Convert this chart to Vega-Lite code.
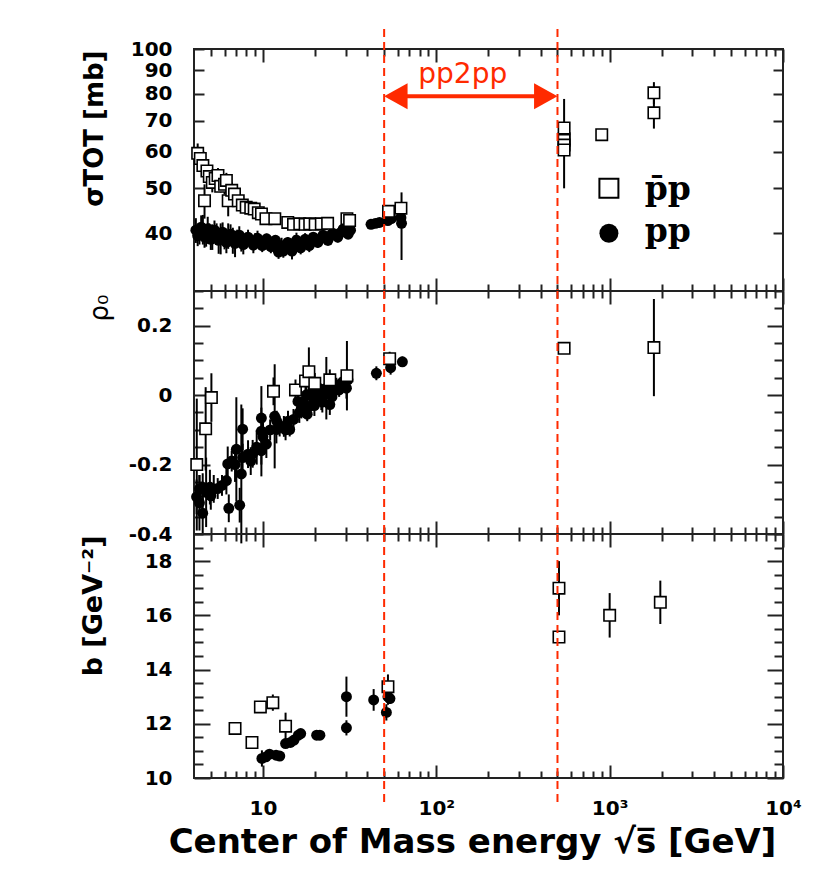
{
"$schema":"https://vega.github.io/schema/vega-lite/v6.json",
"background":"white",
"padding":{"left":77,"top":26,"right":50,"bottom":10},
"spacing":0,
"bounds":"flush",
"datasets":{
"sig_pp":[{"x":4.1,"v":40.6,"e":2.5},{"x":4.2,"v":39.5,"e":2.0},{"x":4.3,"v":39.8,"e":2.0},{"x":4.4,"v":41.2,"e":2.5},{"x":4.5,"v":40.8,"e":3.0},{"x":4.6,"v":39.2,"e":2.0},{"x":4.7,"v":39.6,"e":2.2},{"x":4.8,"v":40.9,"e":2.5},{"x":4.9,"v":40.2,"e":1.8},{"x":5.0,"v":38.8,"e":2.0},{"x":5.1,"v":39.3,"e":2.5},{"x":5.25,"v":40.6,"e":2.0},{"x":5.4,"v":40.0,"e":2.0},{"x":5.55,"v":38.6,"e":2.5},{"x":5.7,"v":39.0,"e":3.0},{"x":5.85,"v":40.2,"e":2.0},{"x":6.0,"v":38.9,"e":2.0},{"x":6.15,"v":38.2,"e":2.0},{"x":6.3,"v":39.5,"e":2.5},{"x":6.5,"v":39.8,"e":2.0},{"x":6.7,"v":38.6,"e":2.5},{"x":6.9,"v":38.0,"e":2.5},{"x":7.1,"v":39.2,"e":1.5},{"x":7.3,"v":39.6,"e":1.8},{"x":7.5,"v":38.5,"e":2.0},{"x":7.7,"v":37.8,"e":1.8},{"x":8.0,"v":38.6,"e":1.5},{"x":8.2,"v":39.2,"e":1.5},{"x":8.5,"v":38.4,"e":1.2},{"x":8.8,"v":37.7,"e":1.5},{"x":9.0,"v":38.5,"e":1.5},{"x":9.3,"v":39.0,"e":1.5},{"x":9.6,"v":38.1,"e":1.0},{"x":9.9,"v":37.6,"e":1.2},{"x":10.2,"v":38.3,"e":1.0},{"x":10.5,"v":38.9,"e":1.0},{"x":10.8,"v":38.2,"e":1.2},{"x":11.1,"v":37.4,"e":1.2},{"x":11.5,"v":37.8,"e":1.0},{"x":11.8,"v":38.6,"e":1.0},{"x":12.0,"v":37.2,"e":1.5},{"x":12.3,"v":36.4,"e":1.2},{"x":12.5,"v":37.0,"e":1.0},{"x":12.8,"v":37.6,"e":1.5},{"x":13.1,"v":36.6,"e":1.2},{"x":13.5,"v":37.5,"e":1.2},{"x":13.9,"v":38.2,"e":1.0},{"x":14.3,"v":37.4,"e":1.5},{"x":14.7,"v":36.6,"e":1.5},{"x":15.2,"v":37.8,"e":1.8},{"x":15.6,"v":38.6,"e":1.5},{"x":16.0,"v":38.0,"e":1.5},{"x":16.5,"v":37.2,"e":1.2},{"x":17.0,"v":37.9,"e":1.0},{"x":17.5,"v":38.8,"e":1.2},{"x":18.0,"v":38.3,"e":1.2},{"x":18.5,"v":37.6,"e":1.2},{"x":19.0,"v":38.5,"e":1.5},{"x":19.5,"v":39.2,"e":1.0},{"x":20.0,"v":38.7,"e":1.0},{"x":20.7,"v":38.2,"e":1.0},{"x":21.5,"v":38.9,"e":1.0},{"x":22.2,"v":39.6,"e":1.0},{"x":23.0,"v":39.2,"e":1.0},{"x":23.7,"v":38.6,"e":1.0},{"x":24.5,"v":39.5,"e":1.2},{"x":25.2,"v":40.0,"e":1.0},{"x":26.0,"v":39.8,"e":1.0},{"x":27.0,"v":39.2,"e":1.0},{"x":28.0,"v":40.1,"e":1.0},{"x":29.0,"v":40.8,"e":0.8},{"x":30.0,"v":40.4,"e":1.0},{"x":31.0,"v":39.8,"e":0.8},{"x":32.0,"v":40.6,"e":0.8},{"x":42.0,"v":41.8,"e":0.6},{"x":44.5,"v":42.0,"e":0.6},{"x":47.0,"v":42.2,"e":0.6},{"x":52.5,"v":42.6,"e":0.6},{"x":55.0,"v":43.0,"e":0.8},{"x":62.5,"v":43.2,"e":0.6},{"x":63.0,"v":42.0,"e":7.0}],
"sig_pb":[{"x":4.2,"v":59.5,"e":3.0},{"x":4.35,"v":58.0,"e":2.5},{"x":4.5,"v":56.0,"e":3.0},{"x":4.6,"v":47.0,"e":4.0},{"x":4.75,"v":54.5,"e":2.0},{"x":4.9,"v":53.0,"e":2.0},{"x":5.1,"v":51.5,"e":2.5},{"x":5.3,"v":52.5,"e":2.0},{"x":5.5,"v":53.3,"e":2.0},{"x":5.7,"v":50.5,"e":1.5},{"x":6.0,"v":51.0,"e":2.5},{"x":6.15,"v":52.0,"e":2.0},{"x":6.3,"v":47.0,"e":3.5},{"x":6.6,"v":49.5,"e":2.0},{"x":6.85,"v":48.6,"e":1.5},{"x":7.2,"v":47.0,"e":1.0},{"x":7.6,"v":46.0,"e":1.0},{"x":8.0,"v":45.5,"e":0.8},{"x":8.5,"v":45.3,"e":0.6},{"x":8.9,"v":45.1,"e":0.6},{"x":9.4,"v":44.3,"e":0.6},{"x":9.8,"v":44.0,"e":0.6},{"x":10.4,"v":43.0,"e":0.6},{"x":11.7,"v":43.0,"e":0.5},{"x":13.9,"v":42.2,"e":0.5},{"x":15.0,"v":41.8,"e":0.5},{"x":16.3,"v":41.9,"e":0.5},{"x":17.5,"v":41.8,"e":0.5},{"x":18.6,"v":41.9,"e":0.6},{"x":20.0,"v":41.8,"e":0.5},{"x":21.7,"v":41.9,"e":0.6},{"x":23.6,"v":42.0,"e":0.5},{"x":30.5,"v":43.0,"e":0.5},{"x":31.6,"v":42.6,"e":0.5},{"x":53.0,"v":44.6,"e":1.0},{"x":62.5,"v":45.3,"e":1.0},{"x":546,"v":64.0,"e":14.0},{"x":546,"v":67.5,"e":1.0},{"x":546,"v":63.5,"e":1.5},{"x":546,"v":62.0,"e":1.0},{"x":546,"v":60.5,"e":1.0},{"x":900,"v":65.3,"e":0.7},{"x":1800,"v":80.4,"e":4.4},{"x":1800,"v":72.8,"e":5.5}],
"rho_pp":[{"x":4.14,"v":-0.293,"e":0.05},{"x":4.3,"v":-0.31,"e":0.08},{"x":4.3,"v":-0.27,"e":0.04},{"x":4.49,"v":-0.34,"e":0.06},{"x":4.49,"v":-0.265,"e":0.04},{"x":4.7,"v":-0.28,"e":0.1},{"x":4.94,"v":-0.265,"e":0.05},{"x":5.0,"v":-0.29,"e":0.04},{"x":5.2,"v":-0.27,"e":0.04},{"x":5.48,"v":-0.269,"e":0.03},{"x":5.8,"v":-0.26,"e":0.03},{"x":6.15,"v":-0.246,"e":0.04},{"x":6.26,"v":-0.198,"e":0.05},{"x":6.35,"v":-0.326,"e":0.04},{"x":6.6,"v":-0.19,"e":0.03},{"x":6.9,"v":-0.2,"e":0.05},{"x":7.02,"v":-0.156,"e":0.15},{"x":7.34,"v":-0.317,"e":0.05},{"x":7.5,"v":-0.227,"e":0.2},{"x":7.63,"v":-0.098,"e":0.06},{"x":7.63,"v":-0.18,"e":0.04},{"x":8.2,"v":-0.17,"e":0.04},{"x":8.5,"v":-0.19,"e":0.04},{"x":8.72,"v":-0.169,"e":0.04},{"x":9.2,"v":-0.15,"e":0.05},{"x":9.79,"v":-0.16,"e":0.04},{"x":9.79,"v":-0.066,"e":0.03},{"x":9.79,"v":-0.104,"e":0.13},{"x":10.0,"v":-0.12,"e":0.04},{"x":10.46,"v":-0.141,"e":0.04},{"x":11.0,"v":-0.1,"e":0.03},{"x":11.68,"v":-0.061,"e":0.15},{"x":11.95,"v":-0.099,"e":0.04},{"x":12.0,"v":-0.075,"e":0.03},{"x":12.48,"v":-0.089,"e":0.03},{"x":13.2,"v":-0.09,"e":0.03},{"x":13.5,"v":-0.1,"e":0.03},{"x":13.94,"v":-0.075,"e":0.03},{"x":14.26,"v":-0.099,"e":0.02},{"x":15.0,"v":-0.07,"e":0.03},{"x":15.91,"v":-0.018,"e":0.03},{"x":16.2,"v":-0.05,"e":0.03},{"x":16.65,"v":-0.037,"e":0.03},{"x":17.0,"v":-0.02,"e":0.03},{"x":17.2,"v":-0.045,"e":0.02},{"x":17.8,"v":0.001,"e":0.03},{"x":18.0,"v":-0.055,"e":0.02},{"x":18.6,"v":-0.032,"e":0.03},{"x":19.0,"v":0.005,"e":0.02},{"x":19.5,"v":-0.01,"e":0.02},{"x":19.8,"v":-0.03,"e":0.03},{"x":20.3,"v":0.011,"e":0.02},{"x":21.0,"v":0.02,"e":0.02},{"x":21.7,"v":-0.013,"e":0.03},{"x":22.0,"v":-0.02,"e":0.03},{"x":22.5,"v":0.0,"e":0.02},{"x":23.2,"v":0.02,"e":0.09},{"x":23.8,"v":0.01,"e":0.02},{"x":24.3,"v":-0.027,"e":0.03},{"x":25.0,"v":-0.005,"e":0.03},{"x":25.5,"v":0.01,"e":0.02},{"x":26.0,"v":0.025,"e":0.02},{"x":26.5,"v":0.03,"e":0.02},{"x":27.5,"v":0.015,"e":0.02},{"x":28.9,"v":0.039,"e":0.03},{"x":29.5,"v":0.03,"e":0.02},{"x":30.3,"v":0.02,"e":0.03},{"x":30.9,"v":0.044,"e":0.02},{"x":45.1,"v":0.063,"e":0.02},{"x":54.5,"v":0.079,"e":0.02},{"x":63.7,"v":0.096,"e":0.015}],
"rho_pb":[{"x":4.15,"v":-0.2,"e":0.19},{"x":4.67,"v":-0.097,"e":0.12},{"x":5.04,"v":-0.007,"e":0.07},{"x":11.5,"v":0.011,"e":0.04},{"x":15.4,"v":0.015,"e":0.03},{"x":17.6,"v":0.041,"e":0.03},{"x":18.4,"v":0.0675,"e":0.07},{"x":19.9,"v":0.034,"e":0.03},{"x":24.3,"v":0.044,"e":0.03},{"x":30.5,"v":0.056,"e":0.1},{"x":53.8,"v":0.105,"e":0.02},{"x":546,"v":0.135,"e":0.01},{"x":1800,"v":0.137,"e":0.14}],
"b_pp":[{"x":9.86,"v":10.72,"e":0.3},{"x":10.4,"v":10.78,"e":0.1},{"x":10.9,"v":10.88,"e":0.1},{"x":11.9,"v":10.84,"e":0.1},{"x":12.5,"v":10.81,"e":0.1},{"x":13.5,"v":11.27,"e":0.1},{"x":14.4,"v":11.31,"e":0.1},{"x":15.1,"v":11.4,"e":0.1},{"x":16.0,"v":11.58,"e":0.12},{"x":16.5,"v":11.64,"e":0.15},{"x":20.4,"v":11.58,"e":0.08},{"x":21.3,"v":11.58,"e":0.08},{"x":30.3,"v":13.0,"e":0.74},{"x":30.3,"v":11.85,"e":0.28},{"x":43.5,"v":12.88,"e":0.4},{"x":52.6,"v":13.0,"e":0.3},{"x":54,"v":12.93,"e":0.2},{"x":51.5,"v":12.42,"e":0.3}],
"b_pb":[{"x":6.9,"v":11.83,"e":0.1},{"x":8.64,"v":11.31,"e":0.12},{"x":9.66,"v":12.62,"e":0.12},{"x":11.4,"v":12.78,"e":0.3},{"x":13.5,"v":11.91,"e":0.5},{"x":52.6,"v":13.37,"e":0.45},{"x":510,"v":17.0,"e":1.0},{"x":510,"v":15.2,"e":0.1},{"x":1000,"v":16.0,"e":0.82},{"x":1960,"v":16.48,"e":0.8}],
"rhic":[{"x":50},{"x":500}]
},
"vconcat":[
{"width":589,"height":242,"resolve":{"axis":{"x":"independent","y":"independent"}},"layer":[
{"data":{"name":"sig_pp"},"mark":{"type":"errorbar","color":"#000","thickness":2},"encoding":{"x":{"field":"x","type":"quantitative","scale":{"type":"log","domain":[4,10000],"nice":false},"axis":null},"y":{"field":"v","type":"quantitative","scale":{"type":"log","domain":[30,100],"nice":false},"axis":null},"yError":{"field":"e"}}},
{"data":{"name":"sig_pp"},"mark":{"type":"circle","color":"#000","size":120,"opacity":1},"encoding":{"x":{"field":"x","type":"quantitative","scale":{"type":"log","domain":[4,10000],"nice":false},"axis":{"orient":"top","offset":-242,"values":[5,6,7,8,9,10,20,30,40,50,60,70,80,90,100,200,300,400,500,600,700,800,900,1000,2000,3000,4000,5000,6000,7000,8000,9000,10000],"labels":false,"title":null,"tickSize":{"condition":{"test":"datum.value==10||datum.value==100||datum.value==1000||datum.value==10000","value":13},"value":7}}},"y":{"field":"v","type":"quantitative","scale":{"type":"log","domain":[30,100],"nice":false},"axis":{"orient":"right","offset":-589,"values":[40,50,60,70,80,90,100],"labels":false,"title":null,"tickSize":10}}}},
{"data":{"name":"sig_pb"},"mark":{"type":"errorbar","color":"#000","thickness":2},"encoding":{"x":{"field":"x","type":"quantitative","scale":{"type":"log","domain":[4,10000],"nice":false},"axis":null},"y":{"field":"v","type":"quantitative","scale":{"type":"log","domain":[30,100],"nice":false},"axis":null},"yError":{"field":"e"}}},
{"data":{"name":"sig_pb"},"mark":{"type":"point","shape":"square","filled":true,"fill":"white","stroke":"#000","strokeWidth":1.6,"size":130,"opacity":1},"encoding":{"x":{"field":"x","type":"quantitative","scale":{"type":"log","domain":[4,10000],"nice":false},"axis":{"orient":"bottom","offset":-242,"values":[5,6,7,8,9,10,20,30,40,50,60,70,80,90,100,200,300,400,500,600,700,800,900,1000,2000,3000,4000,5000,6000,7000,8000,9000,10000],"labels":false,"title":null,"tickSize":{"condition":{"test":"datum.value==10||datum.value==100||datum.value==1000||datum.value==10000","value":13},"value":7}}},"y":{"field":"v","type":"quantitative","scale":{"type":"log","domain":[30,100],"nice":false},"axis":{"orient":"left","offset":-589,"values":[40,50,60,70,80,90,100],"labels":false,"title":null,"tickSize":10}}}},
{"data":{"name":"sig_pp"},"mark":{"type":"circle","opacity":0},"encoding":{"x":{"field":"x","type":"quantitative","scale":{"type":"log","domain":[4,10000],"nice":false},"axis":null},"y":{"field":"v","type":"quantitative","scale":{"type":"log","domain":[30,100],"nice":false},"axis":{"orient":"left","values":[40,50,60,70,80,90,100],"ticks":false,"labelPadding":22,"title":"σTOT [mb]","titleFontSize":26,"titleX":-87,"titleY":1,"titleAlign":"right","titleBaseline":"bottom","titleAngle":-90}}}},
{"data":{"name":"rhic"},"mark":{"type":"rule","color":"#ff2a00","strokeWidth":2,"strokeDash":[8,5]},"encoding":{"x":{"field":"x","type":"quantitative","scale":{"type":"log","domain":[4,10000],"nice":false},"axis":null},"y":{"datum":110.5,"type":"quantitative","scale":{"type":"log","domain":[30,100],"nice":false},"axis":null},"y2":{"datum":30}}},
{"data":{"values":[{}]},"mark":{"type":"rule","color":"#ff2a00","strokeWidth":4},"encoding":{"x":{"datum":53,"type":"quantitative","scale":{"type":"log","domain":[4,10000],"nice":false},"axis":null},"x2":{"datum":475},"y":{"datum":79.1,"type":"quantitative","scale":{"type":"log","domain":[30,100],"nice":false},"axis":null}}},
{"data":{"values":[{}]},"mark":{"type":"point","shape":"M0,0L1.8,-1L1.8,1Z","filled":true,"color":"#ff2a00","size":676,"opacity":1,"strokeWidth":0},"encoding":{"x":{"datum":50,"type":"quantitative","scale":{"type":"log","domain":[4,10000],"nice":false},"axis":null},"y":{"datum":79.1,"type":"quantitative","scale":{"type":"log","domain":[30,100],"nice":false},"axis":null}}},
{"data":{"values":[{}]},"mark":{"type":"point","shape":"M0,0L-1.8,-1L-1.8,1Z","filled":true,"color":"#ff2a00","size":676,"opacity":1,"strokeWidth":0},"encoding":{"x":{"datum":500,"type":"quantitative","scale":{"type":"log","domain":[4,10000],"nice":false},"axis":null},"y":{"datum":79.1,"type":"quantitative","scale":{"type":"log","domain":[30,100],"nice":false},"axis":null}}},
{"data":{"values":[{}]},"mark":{"type":"text","text":"pp2pp","font":"DejaVu Sans","fontSize":28,"color":"#ff2a00","align":"center","baseline":"alphabetic"},"encoding":{"x":{"datum":142,"type":"quantitative","scale":{"type":"log","domain":[4,10000],"nice":false},"axis":null},"y":{"datum":84.4,"type":"quantitative","scale":{"type":"log","domain":[30,100],"nice":false},"axis":null}}},
{"data":{"values":[{}]},"mark":{"type":"point","shape":"square","filled":true,"fill":"white","stroke":"#000","strokeWidth":2,"size":361,"opacity":1},"encoding":{"x":{"datum":990,"type":"quantitative","scale":{"type":"log","domain":[4,10000],"nice":false},"axis":null},"y":{"datum":50,"type":"quantitative","scale":{"type":"log","domain":[30,100],"nice":false},"axis":null}}},
{"data":{"values":[{}]},"mark":{"type":"circle","color":"#000","size":361,"opacity":1},"encoding":{"x":{"datum":990,"type":"quantitative","scale":{"type":"log","domain":[4,10000],"nice":false},"axis":null},"y":{"datum":40,"type":"quantitative","scale":{"type":"log","domain":[30,100],"nice":false},"axis":null}}},
{"data":{"values":[{}]},"mark":{"type":"text","text":"p̄p","font":"DejaVu Serif","fontWeight":"bold","fontSize":33,"color":"#000","align":"left","baseline":"alphabetic"},"encoding":{"x":{"datum":1594,"type":"quantitative","scale":{"type":"log","domain":[4,10000],"nice":false},"axis":null},"y":{"datum":47.1,"type":"quantitative","scale":{"type":"log","domain":[30,100],"nice":false},"axis":null}}},
{"data":{"values":[{}]},"mark":{"type":"text","text":"pp","font":"DejaVu Serif","fontWeight":"bold","fontSize":33,"color":"#000","align":"left","baseline":"alphabetic"},"encoding":{"x":{"datum":1594,"type":"quantitative","scale":{"type":"log","domain":[4,10000],"nice":false},"axis":null},"y":{"datum":38.2,"type":"quantitative","scale":{"type":"log","domain":[30,100],"nice":false},"axis":null}}}
]},
{"width":589,"height":243,"resolve":{"axis":{"x":"independent","y":"independent"}},"layer":[
{"data":{"name":"rho_pp"},"mark":{"type":"errorbar","color":"#000","thickness":2},"encoding":{"x":{"field":"x","type":"quantitative","scale":{"type":"log","domain":[4,10000],"nice":false},"axis":null},"y":{"field":"v","type":"quantitative","scale":{"domain":[-0.4,0.3],"nice":false,"zero":false},"axis":null},"yError":{"field":"e"}}},
{"data":{"name":"rho_pp"},"mark":{"type":"circle","color":"#000","size":120,"opacity":1},"encoding":{"x":{"field":"x","type":"quantitative","scale":{"type":"log","domain":[4,10000],"nice":false},"axis":{"orient":"top","offset":-243,"values":[5,6,7,8,9,10,20,30,40,50,60,70,80,90,100,200,300,400,500,600,700,800,900,1000,2000,3000,4000,5000,6000,7000,8000,9000,10000],"labels":false,"title":null,"tickSize":{"condition":{"test":"datum.value==10||datum.value==100||datum.value==1000||datum.value==10000","value":13},"value":7}}},"y":{"field":"v","type":"quantitative","scale":{"domain":[-0.4,0.3],"nice":false,"zero":false},"axis":{"orient":"right","offset":-589,"values":[-0.4,-0.35,-0.3,-0.25,-0.2,-0.15,-0.1,-0.05,0,0.05,0.1,0.15,0.2,0.25,0.3],"labels":false,"title":null,"tickSize":{"condition":{"test":"abs(datum.value*5-round(datum.value*5))<0.001","value":16},"value":9}}}}},
{"data":{"name":"rho_pb"},"mark":{"type":"errorbar","color":"#000","thickness":2},"encoding":{"x":{"field":"x","type":"quantitative","scale":{"type":"log","domain":[4,10000],"nice":false},"axis":null},"y":{"field":"v","type":"quantitative","scale":{"domain":[-0.4,0.3],"nice":false,"zero":false},"axis":null},"yError":{"field":"e"}}},
{"data":{"name":"rho_pb"},"mark":{"type":"point","shape":"square","filled":true,"fill":"white","stroke":"#000","strokeWidth":1.6,"size":130,"opacity":1},"encoding":{"x":{"field":"x","type":"quantitative","scale":{"type":"log","domain":[4,10000],"nice":false},"axis":{"orient":"bottom","offset":-243,"values":[5,6,7,8,9,10,20,30,40,50,60,70,80,90,100,200,300,400,500,600,700,800,900,1000,2000,3000,4000,5000,6000,7000,8000,9000,10000],"labels":false,"title":null,"tickSize":{"condition":{"test":"datum.value==10||datum.value==100||datum.value==1000||datum.value==10000","value":13},"value":7}}},"y":{"field":"v","type":"quantitative","scale":{"domain":[-0.4,0.3],"nice":false,"zero":false},"axis":{"orient":"left","offset":-589,"values":[-0.4,-0.35,-0.3,-0.25,-0.2,-0.15,-0.1,-0.05,0,0.05,0.1,0.15,0.2,0.25,0.3],"labels":false,"title":null,"tickSize":{"condition":{"test":"abs(datum.value*5-round(datum.value*5))<0.001","value":16},"value":9}}}}},
{"data":{"name":"rho_pp"},"mark":{"type":"circle","opacity":0},"encoding":{"x":{"field":"x","type":"quantitative","scale":{"type":"log","domain":[4,10000],"nice":false},"axis":null},"y":{"field":"v","type":"quantitative","scale":{"domain":[-0.4,0.3],"nice":false,"zero":false},"axis":{"orient":"left","values":[-0.4,-0.2,0,0.2],"ticks":false,"labelExpr":"toString(datum.value)","labelPadding":22,"title":"ρ₀","titleFontSize":26,"titleFontWeight":"normal","titleX":-82,"titleY":3,"titleAlign":"right","titleBaseline":"bottom","titleAngle":-90}}}},
{"data":{"name":"rhic"},"mark":{"type":"rule","color":"#ff2a00","strokeWidth":2,"strokeDash":[8,5]},"encoding":{"x":{"field":"x","type":"quantitative","scale":{"type":"log","domain":[4,10000],"nice":false},"axis":null}}}
]},
{"width":589,"height":244,"resolve":{"axis":{"x":"independent","y":"independent"}},"layer":[
{"data":{"name":"b_pp"},"mark":{"type":"errorbar","color":"#000","thickness":2},"encoding":{"x":{"field":"x","type":"quantitative","scale":{"type":"log","domain":[4,10000],"nice":false},"axis":null},"y":{"field":"v","type":"quantitative","scale":{"domain":[10,19],"nice":false,"zero":false},"axis":null},"yError":{"field":"e"}}},
{"data":{"name":"b_pp"},"mark":{"type":"circle","color":"#000","size":120,"opacity":1},"encoding":{"x":{"field":"x","type":"quantitative","scale":{"type":"log","domain":[4,10000],"nice":false},"axis":{"orient":"top","offset":-244,"values":[5,6,7,8,9,10,20,30,40,50,60,70,80,90,100,200,300,400,500,600,700,800,900,1000,2000,3000,4000,5000,6000,7000,8000,9000,10000],"labels":false,"title":null,"tickSize":{"condition":{"test":"datum.value==10||datum.value==100||datum.value==1000||datum.value==10000","value":13},"value":7}}},"y":{"field":"v","type":"quantitative","scale":{"domain":[10,19],"nice":false,"zero":false},"axis":{"orient":"right","offset":-589,"values":[10,10.5,11,11.5,12,12.5,13,13.5,14,14.5,15,15.5,16,16.5,17,17.5,18,18.5,19],"labels":false,"title":null,"tickSize":{"condition":{"test":"datum.value % 2 == 0","value":16},"value":9}}}}},
{"data":{"name":"b_pb"},"mark":{"type":"errorbar","color":"#000","thickness":2},"encoding":{"x":{"field":"x","type":"quantitative","scale":{"type":"log","domain":[4,10000],"nice":false},"axis":null},"y":{"field":"v","type":"quantitative","scale":{"domain":[10,19],"nice":false,"zero":false},"axis":null},"yError":{"field":"e"}}},
{"data":{"name":"b_pb"},"mark":{"type":"point","shape":"square","filled":true,"fill":"white","stroke":"#000","strokeWidth":1.6,"size":130,"opacity":1},"encoding":{"x":{"field":"x","type":"quantitative","scale":{"type":"log","domain":[4,10000],"nice":false},"axis":{"orient":"bottom","offset":-244,"values":[5,6,7,8,9,10,20,30,40,50,60,70,80,90,100,200,300,400,500,600,700,800,900,1000,2000,3000,4000,5000,6000,7000,8000,9000,10000],"labels":false,"title":null,"tickSize":{"condition":{"test":"datum.value==10||datum.value==100||datum.value==1000||datum.value==10000","value":13},"value":7}}},"y":{"field":"v","type":"quantitative","scale":{"domain":[10,19],"nice":false,"zero":false},"axis":{"orient":"left","offset":-589,"values":[10,10.5,11,11.5,12,12.5,13,13.5,14,14.5,15,15.5,16,16.5,17,17.5,18,18.5,19],"labels":false,"title":null,"tickSize":{"condition":{"test":"datum.value % 2 == 0","value":16},"value":9}}}}},
{"data":{"name":"b_pp"},"mark":{"type":"circle","opacity":0},"encoding":{"x":{"field":"x","type":"quantitative","scale":{"type":"log","domain":[4,10000],"nice":false},"axis":{"orient":"bottom","values":[10,100,1000,10000],"ticks":false,"labelPadding":20,"labelExpr":"datum.value==10 ? '10' : datum.value==100 ? '10²' : datum.value==1000 ? '10³' : '10⁴'","title":"Center of Mass energy √s̅ [GeV]","titleFontSize":34,"titleX":278,"titleY":74,"titleAlign":"center","titleBaseline":"alphabetic"}},"y":{"field":"v","type":"quantitative","scale":{"domain":[10,19],"nice":false,"zero":false},"axis":{"orient":"left","values":[10,12,14,16,18],"ticks":false,"labelPadding":22,"title":"b [GeV⁻²]","titleFontSize":27,"titleX":-87,"titleY":1,"titleAlign":"right","titleBaseline":"bottom","titleAngle":-90}}}},
{"data":{"name":"rhic"},"mark":{"type":"rule","color":"#ff2a00","strokeWidth":2,"strokeDash":[8,5]},"encoding":{"x":{"field":"x","type":"quantitative","scale":{"type":"log","domain":[4,10000],"nice":false},"axis":null},"y":{"datum":19,"type":"quantitative","scale":{"domain":[10,19],"nice":false,"zero":false},"axis":null},"y2":{"datum":9.11}}}
]}
],
"config":{
"view":{"stroke":"#222","strokeWidth":2},
"axis":{"zindex":1,"domain":false,"grid":false,"tickColor":"#222","tickWidth":2,"tickOpacity":1,"labelFont":"DejaVu Sans","labelFontWeight":"bold","labelFontSize":20,"labelColor":"#000","titleFont":"DejaVu Sans","titleFontWeight":"bold","titleColor":"#000","labelOverlap":false,"labelFlush":false,"labelBound":false}
}
}
